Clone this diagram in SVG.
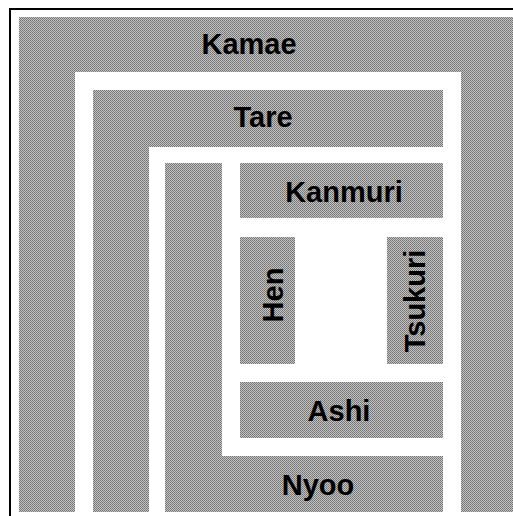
<svg xmlns="http://www.w3.org/2000/svg" width="513" height="516" viewBox="0 0 513 516">
  <defs>
    <pattern id="dither" width="2" height="2" patternUnits="userSpaceOnUse">
      <rect width="2" height="2" fill="#c2c2c2"/>
      <rect x="0" y="0" width="1" height="1" fill="#727272"/>
      <rect x="1" y="1" width="1" height="1" fill="#808080"/>
    </pattern>
  </defs>
  <style>
    .part { fill: url(#dither); stroke: none; }
    .label { font-family: "Liberation Sans", Arial, sans-serif; font-weight: bold; font-size: 29px; fill: #000; text-anchor: middle; }
    .frame { stroke: #000; stroke-width: 2; fill: none; }
  </style>
  <rect width="513" height="516" fill="#fff"/>
  <g id="frame">
    <line class="frame" x1="9" y1="9" x2="513" y2="9"/>
    <line class="frame" x1="10" y1="8" x2="10" y2="516"/>
  </g>
  <g id="kamae">
    <path class="part" d="M19,17 H513 V512 H461 V72 H75 V512 H19 Z"/>
    <text class="label" x="249" y="54">Kamae</text>
  </g>
  <g id="tare">
    <path class="part" d="M93,90 H443 V147 H149 V512 H93 Z"/>
    <text class="label" x="263" y="127">Tare</text>
  </g>
  <g id="nyoo">
    <path class="part" d="M165,163 H222 V456 H443 V512 H165 Z"/>
    <text class="label" x="318" y="495">Nyoo</text>
  </g>
  <g id="kanmuri">
    <rect class="part" x="240" y="163" width="203" height="55"/>
    <text class="label" x="344" y="202">Kanmuri</text>
  </g>
  <g id="hen">
    <rect class="part" x="240" y="237" width="55" height="127"/>
    <text class="label" transform="translate(283,295) rotate(-90)" x="0" y="0">Hen</text>
  </g>
  <g id="tsukuri">
    <rect class="part" x="387" y="237" width="56" height="127"/>
    <text class="label" transform="translate(425,301) rotate(-90)" x="0" y="0">Tsukuri</text>
  </g>
  <g id="ashi">
    <rect class="part" x="240" y="382" width="203" height="56"/>
    <text class="label" x="339" y="421">Ashi</text>
  </g>
  <g id="connectors"/>
</svg>
